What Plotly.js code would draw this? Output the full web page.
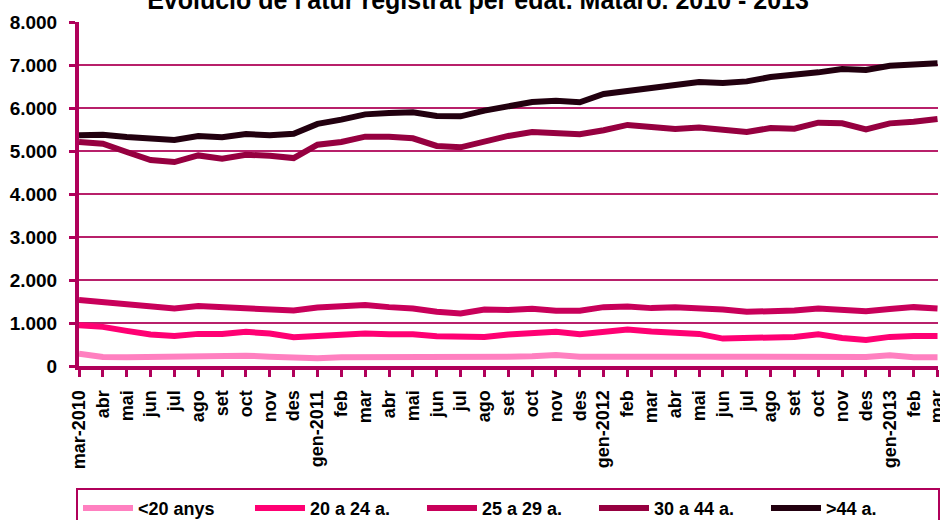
<!DOCTYPE html>
<html>
<head>
<meta charset="utf-8">
<script src="https://cdn.plot.ly/plotly-3.0.1.min.js"></script>
<style>html,body{margin:0;padding:0;background:#fff;}#chart{width:940px;height:520px;}</style>
</head>
<body>
<div id="chart"></div>
<script>
// Month labels (mar-2010 .. mar-2013)
var months = ['mar-2010','abr','mai','jun','jul','ago','set','oct','nov','des',
  'gen-2011','feb','mar','abr','mai','jun','jul','ago','set','oct','nov','des',
  'gen-2012','feb','mar','abr','mai','jun','jul','ago','set','oct','nov','des',
  'gen-2013','feb','mar'];

// Series values (registered unemployed, Mataró)
var menys20 = [288,210,202,210,226,226,241,241,218,195,179,202,202,187,187,210,210,218,218,226,257,218,218,226,210,218,218,210,210,210,226,241,226,210,249,202,202];
var a20_24 = [949,910,817,731,700,747,747,794,755,669,700,731,755,739,739,692,677,677,730,770,794,739,778,848,801,786,747,638,653,653,677,739,653,607,677,700,700];
var a25_29 = [1533,1478,1439,1369,1338,1393,1369,1369,1323,1291,1361,1377,1416,1369,1338,1260,1221,1315,1300,1330,1284,1284,1369,1385,1346,1369,1346,1315,1260,1260,1291,1338,1315,1276,1323,1369,1338];
var a30_44 = [5210,5170,4977,4790,4743,4897,4820,4914,4890,4836,5147,5210,5334,5334,5295,5117,5085,5233,5350,5443,5404,5389,5482,5606,5560,5510,5549,5487,5441,5534,5518,5658,5643,5503,5643,5681,5744];
var mes44 = [5364,5380,5326,5287,5256,5350,5318,5395,5364,5403,5630,5730,5852,5883,5899,5814,5806,5938,6047,6140,6171,6132,6326,6412,6465,6534,6604,6580,6619,6720,6759,6829,6907,6883,6984,7008,7039];

var seriesNames = ['<20 anys','20 a 24 a.','25 a 29 a.','30 a 44 a.','>44 a.'];
var seriesColors = ['#FF80C0','#FF0073','#C8005A','#960040','#22000F'];

// Y tick labels
var yTickVals = [0,1000,2000,3000,4000,5000,6000,7000,8000];
var yTickText = ['0','1.000','2.000','3.000','4.000','5.000','6.000','7.000','8.000'];

var xIdx = months.map(function(_, i){ return i; });
var allSeries = [menys20, a20_24, a25_29, a30_44, mes44];

var FONT = 'Liberation Sans, Arial, sans-serif';
var AXC = '#B0005A';

var traces = allSeries.map(function(vals, k){
  return {
    type: 'scatter', mode: 'lines',
    x: xIdx, y: vals,
    name: seriesNames[k],
    line: {color: seriesColors[k], width: 6},
    hoverinfo: 'skip'
  };
});

var layout = {
  width: 940, height: 520,
  margin: {l: 79, r: 2, t: 22, b: 154, autoexpand: false},
  paper_bgcolor: '#fff', plot_bgcolor: '#fff',
  showlegend: true,
  title: {
    text: "Evolució de l'atur registrat per edat. Mataró. 2010 - 2013",
    x: 0.4645, xanchor: 'center', xref: 'paper',
    y: 1.0, yref: 'container', yanchor: 'middle',
    font: {family: FONT, size: 25, color: '#000', weight: 'bold'}
  },
  xaxis: {
    range: [-0.001, 36.02],
    tickvals: xIdx, ticktext: months,
    tickangle: -90,
    ticklabeloverflow: 'allow',
    showgrid: false, zeroline: false,
    showline: true, linecolor: AXC, linewidth: 4,
    ticks: 'outside', ticklen: 7, tickwidth: 3, tickcolor: AXC,
    tickfont: {family: FONT, size: 18, color: '#000', weight: 'bold'},
    ticklabelstandoff: 6,
    automargin: false,
    fixedrange: true
  },
  yaxis: {
    range: [0, 8000],
    tickvals: yTickVals, ticktext: yTickText,
    showgrid: true, gridcolor: '#B8206A', gridwidth: 2,
    zeroline: false,
    showline: true, linecolor: AXC, linewidth: 4,
    ticks: 'outside', ticklen: 6, tickwidth: 3, tickcolor: AXC,
    tickfont: {family: FONT, size: 19, color: '#000', weight: 'bold'},
    ticklabelstandoff: 8,
    automargin: false,
    fixedrange: true
  },
  legend: {
    orientation: 'h',
    x: -0.0035, xanchor: 'left',
    y: -0.354, yanchor: 'top',
    bordercolor: AXC, borderwidth: 2,
    bgcolor: '#fff',
    itemwidth: 50,
    entrywidth: 107,
    font: {family: FONT, size: 18, color: '#000', weight: 'bold'},
    traceorder: 'normal'
  }
};

Plotly.newPlot('chart', traces, layout, {staticPlot: true, displayModeBar: false});
</script>
</body>
</html>
